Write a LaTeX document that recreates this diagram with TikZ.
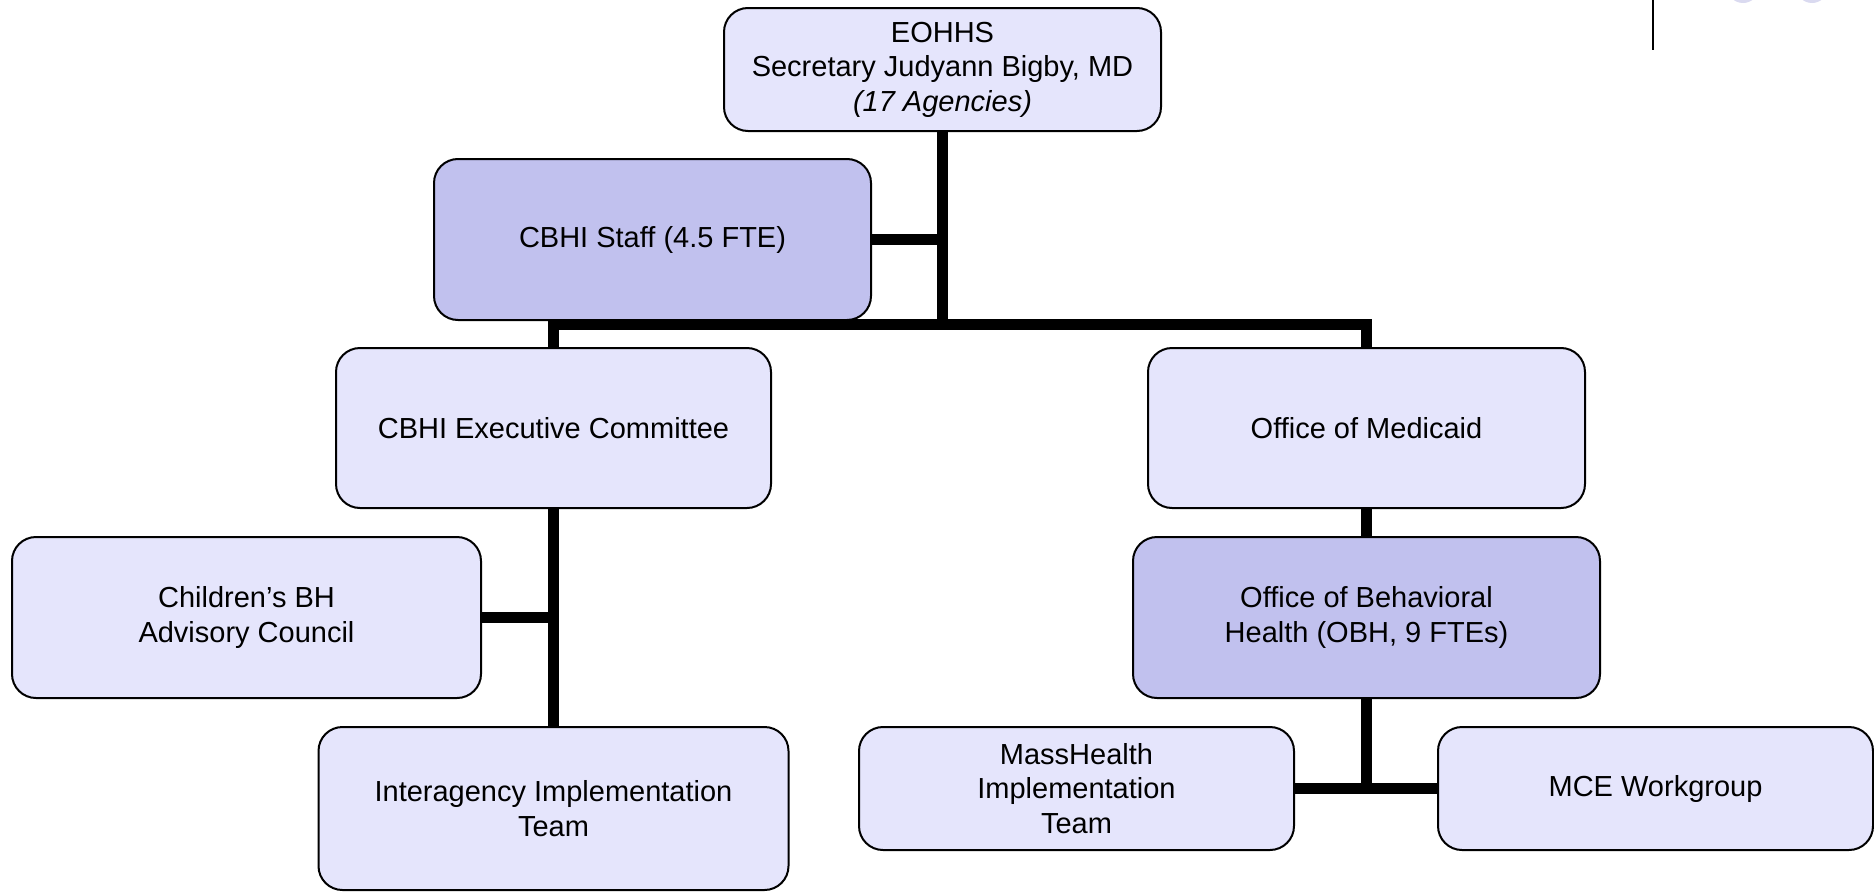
\documentclass[tikz,border=0pt]{standalone}
\usepackage{fontspec}
\setmainfont{Liberation Sans}
\definecolor{boxlight}{RGB}{229,229,252}
\definecolor{boxdark}{RGB}{193,193,238}
\definecolor{deco}{RGB}{218,218,240}
\begin{document}
\begin{tikzpicture}[x=0.5pt,y=-0.5pt,
  orgbox/.style={draw=black, line width=1pt, rounded corners=12pt, fill=boxlight,
    align=center, inner sep=0pt, font=\fontsize{14.5}{17.3}\selectfont},
  darkbox/.style={orgbox, fill=boxdark},
  conn/.style={line width=5.5pt, black, line cap=butt, line join=miter}]
\useasboundingbox (0,0) rectangle (1874,894);
\clip (0,0) rectangle (1874,894);
% decoration top right
\fill[deco] (1743,-13) circle (16);
\fill[deco] (1812,-13) circle (16);
\draw[line width=1.3pt] (1653,0) -- (1653,50);
% boxes
\node[orgbox, minimum width=218.5pt, minimum height=61.5pt] (eohhs) at (942.5,69.5)
  {EOHHS\\Secretary Judyann Bigby, MD\\\textit{(17 Agencies)}};
\node[darkbox, minimum width=218.5pt, minimum height=80.5pt] (staff) at (652.5,239.5)
  {CBHI Staff (4.5 FTE)};
\node[orgbox, minimum width=217.5pt, minimum height=80pt] (exec) at (553.5,428)
  {CBHI Executive Committee};
\node[orgbox, minimum width=218.5pt, minimum height=80pt] (medicaid) at (1366.5,428)
  {Office of Medicaid};
\node[orgbox, minimum width=234.5pt, minimum height=80.5pt] (child) at (246.5,617.5)
  {Children’s BH\\Advisory Council};
\node[darkbox, minimum width=233.5pt, minimum height=80.5pt] (obh) at (1366.5,617.5)
  {Office of Behavioral\\Health (OBH, 9 FTEs)};
\node[orgbox, minimum width=235pt, minimum height=81.5pt] (inter) at (553.5,808.5)
  {Interagency Implementation\\Team};
\node[orgbox, minimum width=217.5pt, minimum height=61.5pt] (mass) at (1076.5,788.5)
  {MassHealth\\Implementation\\Team};
\node[orgbox, minimum width=217.5pt, minimum height=61.5pt] (mce) at (1655.5,788.5)
  {MCE Workgroup};
% connectors
\coordinate (bus) at (942.5,324);
\draw[conn] (eohhs.south) -- (bus);
\draw[conn] (staff.east) -- (staff.east -| bus);
\draw[conn] (exec.north) |- (bus) -| (medicaid.north);
\draw[conn] (exec.south) -- (inter.north);
\draw[conn] (child.east) -- (child.east -| exec.south);
\draw[conn] (medicaid.south) -- (obh.north);
\draw[conn] (obh.south) -- (obh.south |- mass.east);
\draw[conn] (mass.east) -- (mce.west);
\end{tikzpicture}
\end{document}
